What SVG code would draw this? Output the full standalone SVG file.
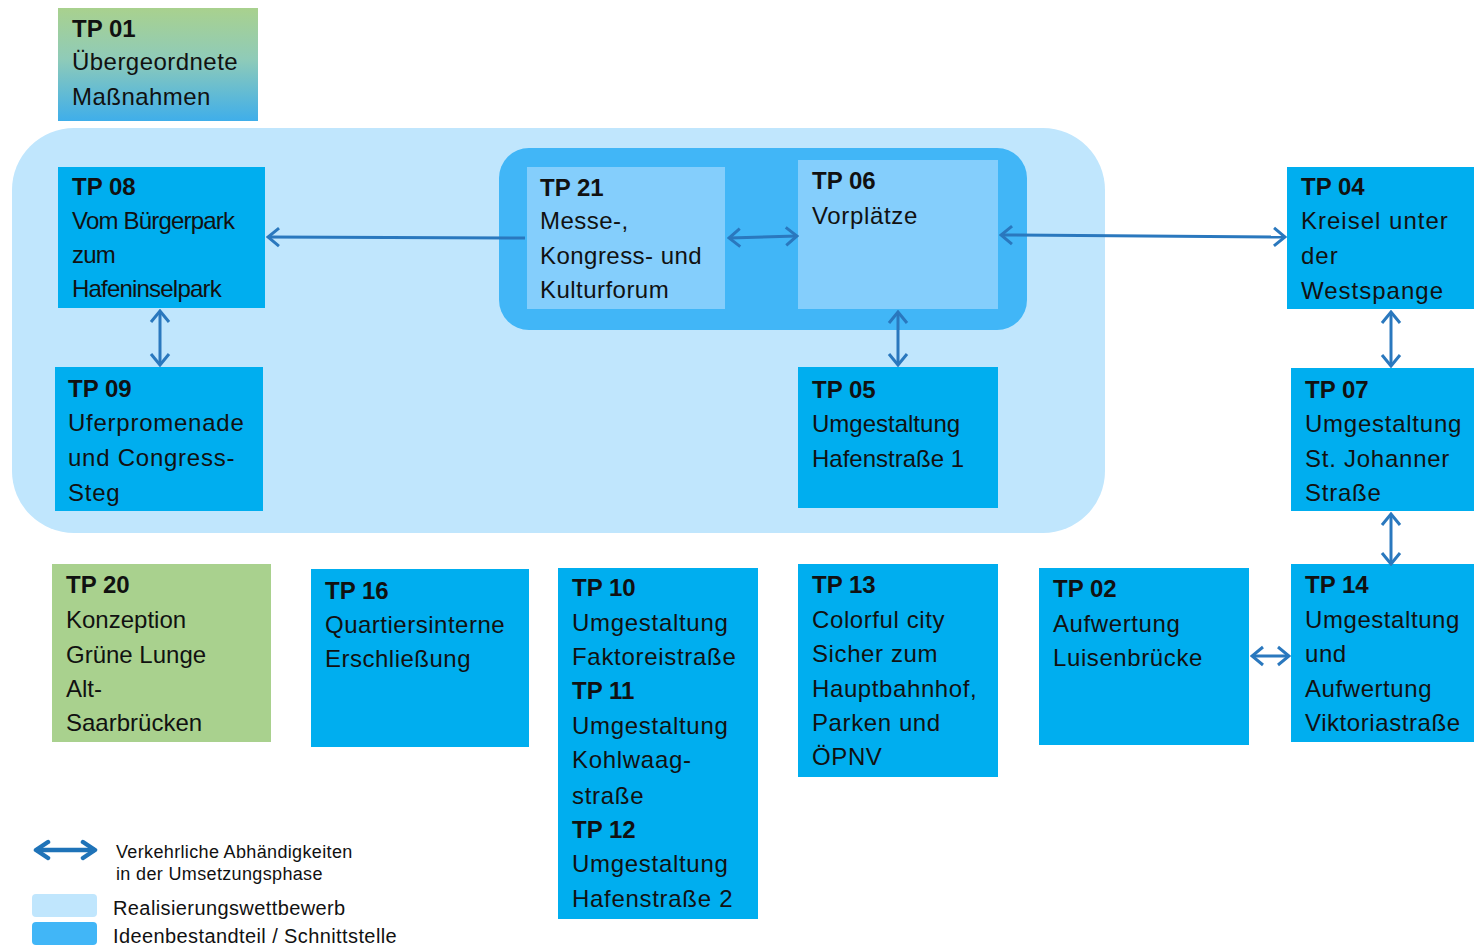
<svg xmlns="http://www.w3.org/2000/svg" width="1474" height="947" viewBox="0 0 1474 947">
  <style>
    text { font-family: "Liberation Sans", Arial, sans-serif; font-size: 24px; fill: #111; }
    text.b { font-weight: bold; letter-spacing: 0; }
    .node { fill: #00AEEF; }
    .light { fill: #84CEFC; }
    .green { fill: #A9D18E; }
    .conn { stroke: #2A78BE; stroke-width: 3; fill: none; marker-end: url(#ah); marker-start: url(#ah); }
    .one { marker-start: none; }
    .legconn { stroke: #1F73B8; stroke-width: 4.5; fill: none; marker-end: url(#ahBold); marker-start: url(#ahBold); }
    .leg { font-size: 18px; letter-spacing: 0.35px; }
    .leg2 { font-size: 20px; letter-spacing: 0.4px; }
  </style>
  <defs>
    <linearGradient id="gTop" x1="0" y1="0" x2="0" y2="1">
      <stop offset="0" stop-color="#A9D18E"/>
      <stop offset="0.45" stop-color="#8FCBB8"/>
      <stop offset="1" stop-color="#3FAEEA"/>
    </linearGradient>
    <marker id="ah" viewBox="-14 -12 16 24" markerWidth="16" markerHeight="24" refX="0" refY="0" markerUnits="userSpaceOnUse" orient="auto-start-reverse">
      <path d="M-11,-9 L0,0 L-11,9" fill="none" stroke="#2A78BE" stroke-width="3"/>
    </marker>
    <marker id="ahBold" viewBox="-16 -12 19 24" markerWidth="19" markerHeight="24" refX="0" refY="0" markerUnits="userSpaceOnUse" orient="auto-start-reverse">
      <path d="M-12,-8 L0,0 L-12,8" fill="none" stroke="#1F73B8" stroke-width="4.5" stroke-linejoin="round" stroke-linecap="round"/>
    </marker>
  </defs>

  <!-- grouping backgrounds -->
  <rect x="12" y="128" width="1093" height="405" rx="62" fill="#C0E6FD"/>
  <rect x="499" y="148" width="528" height="182" rx="30" fill="#41B6F7"/>

  <g id="tp01" letter-spacing="0.46">
    <rect x="58" y="8" width="200" height="113" fill="url(#gTop)"/>
    <text x="72" y="37" class="b">TP 01</text>
    <text x="72" y="70">Übergeordnete</text>
    <text x="72" y="105">Maßnahmen</text>
  </g>

  <g id="tp21" letter-spacing="0.46">
    <rect x="527" y="167" width="198" height="142" class="light"/>
    <text x="540" y="196" class="b">TP 21</text>
    <text x="540" y="229">Messe-,</text>
    <text x="540" y="264">Kongress- und</text>
    <text x="540" y="298">Kulturforum</text>
  </g>

  <g id="tp06" letter-spacing="0.65">
    <rect x="798" y="160" width="200" height="149" class="light"/>
    <text x="812" y="189" class="b">TP 06</text>
    <text x="812" y="224">Vorplätze</text>
  </g>

  <g id="tp08" letter-spacing="-0.8">
    <rect x="58" y="167" width="207" height="141" class="node"/>
    <text x="72" y="195" class="b">TP 08</text>
    <text x="72" y="229">Vom Bürgerpark</text>
    <text x="72" y="263">zum</text>
    <text x="72" y="297">Hafeninselpark</text>
  </g>

  <g id="tp09" letter-spacing="0.75">
    <rect x="55" y="367" width="208" height="144" class="node"/>
    <text x="68" y="397" class="b">TP 09</text>
    <text x="68" y="431">Uferpromenade</text>
    <text x="68" y="466">und Congress-</text>
    <text x="68" y="501">Steg</text>
  </g>

  <g id="tp05">
    <rect x="798" y="367" width="200" height="141" class="node"/>
    <text x="812" y="398" class="b">TP 05</text>
    <text x="812" y="432">Umgestaltung</text>
    <text x="812" y="467">Hafenstraße 1</text>
  </g>

  <g id="tp04" letter-spacing="1">
    <rect x="1287" y="167" width="187" height="142" class="node"/>
    <text x="1301" y="195" class="b">TP 04</text>
    <text x="1301" y="229">Kreisel unter</text>
    <text x="1301" y="264">der</text>
    <text x="1301" y="299">Westspange</text>
  </g>

  <g id="tp07" letter-spacing="0.75">
    <rect x="1291" y="368" width="183" height="143" class="node"/>
    <text x="1305" y="398" class="b">TP 07</text>
    <text x="1305" y="432">Umgestaltung</text>
    <text x="1305" y="467">St. Johanner</text>
    <text x="1305" y="501">Straße</text>
  </g>

  <g id="tp14" letter-spacing="0.57">
    <rect x="1291" y="564" width="183" height="178" class="node"/>
    <text x="1305" y="593" class="b">TP 14</text>
    <text x="1305" y="628">Umgestaltung</text>
    <text x="1305" y="662">und</text>
    <text x="1305" y="697">Aufwertung</text>
    <text x="1305" y="731">Viktoriastraße</text>
  </g>

  <g id="tp02" letter-spacing="0.6">
    <rect x="1039" y="568" width="210" height="177" class="node"/>
    <text x="1053" y="597" class="b">TP 02</text>
    <text x="1053" y="632">Aufwertung</text>
    <text x="1053" y="666">Luisenbrücke</text>
  </g>

  <g id="tp13" letter-spacing="0.6">
    <rect x="798" y="564" width="200" height="213" class="node"/>
    <text x="812" y="593" class="b">TP 13</text>
    <text x="812" y="628">Colorful city</text>
    <text x="812" y="662">Sicher zum</text>
    <text x="812" y="697">Hauptbahnhof,</text>
    <text x="812" y="731">Parken und</text>
    <text x="812" y="765">ÖPNV</text>
  </g>

  <g id="tp10-12" letter-spacing="0.7">
    <rect x="558" y="568" width="200" height="351" class="node"/>
    <text x="572" y="596" class="b">TP 10</text>
    <text x="572" y="631">Umgestaltung</text>
    <text x="572" y="665">Faktoreistraße</text>
    <text x="572" y="699" class="b">TP 11</text>
    <text x="572" y="734">Umgestaltung</text>
    <text x="572" y="768">Kohlwaag-</text>
    <text x="572" y="804">straße</text>
    <text x="572" y="838" class="b">TP 12</text>
    <text x="572" y="872">Umgestaltung</text>
    <text x="572" y="907">Hafenstraße 2</text>
  </g>

  <g id="tp16" letter-spacing="0.5">
    <rect x="311" y="569" width="218" height="178" class="node"/>
    <text x="325" y="599" class="b">TP 16</text>
    <text x="325" y="633">Quartiersinterne</text>
    <text x="325" y="667">Erschließung</text>
  </g>

  <g id="tp20">
    <rect x="52" y="564" width="219" height="178" class="green"/>
    <text x="66" y="593" class="b">TP 20</text>
    <text x="66" y="628">Konzeption</text>
    <text x="66" y="663">Grüne Lunge</text>
    <text x="66" y="697">Alt-</text>
    <text x="66" y="731">Saarbrücken</text>
  </g>

  <!-- dependencies -->
  <g id="connectors">
    <line x1="525" y1="238" x2="268" y2="237" class="conn one"/>
    <line x1="729" y1="238" x2="797" y2="236" class="conn"/>
    <line x1="1001" y1="235" x2="1285" y2="237" class="conn"/>
    <line x1="160" y1="311" x2="160" y2="365" class="conn"/>
    <line x1="898" y1="312" x2="898" y2="365" class="conn"/>
    <line x1="1391" y1="312" x2="1391" y2="366" class="conn"/>
    <line x1="1391" y1="514" x2="1391" y2="564" class="conn"/>
    <line x1="1252" y1="656" x2="1289" y2="656" class="conn"/>
  </g>

  <!-- legend -->
  <g id="legend">
    <line x1="36" y1="850" x2="95" y2="850" class="legconn"/>
    <text x="116" y="858" class="leg">Verkehrliche Abhändigkeiten</text>
    <text x="116" y="880" class="leg">in der Umsetzungsphase</text>
    <rect x="32" y="894" width="65" height="23" rx="4" fill="#C0E6FD"/>
    <text x="113" y="915" class="leg2">Realisierungswettbewerb</text>
    <rect x="32" y="922" width="65" height="23" rx="4" fill="#41B6F7"/>
    <text x="113" y="943" class="leg2">Ideenbestandteil / Schnittstelle</text>
  </g>
</svg>
